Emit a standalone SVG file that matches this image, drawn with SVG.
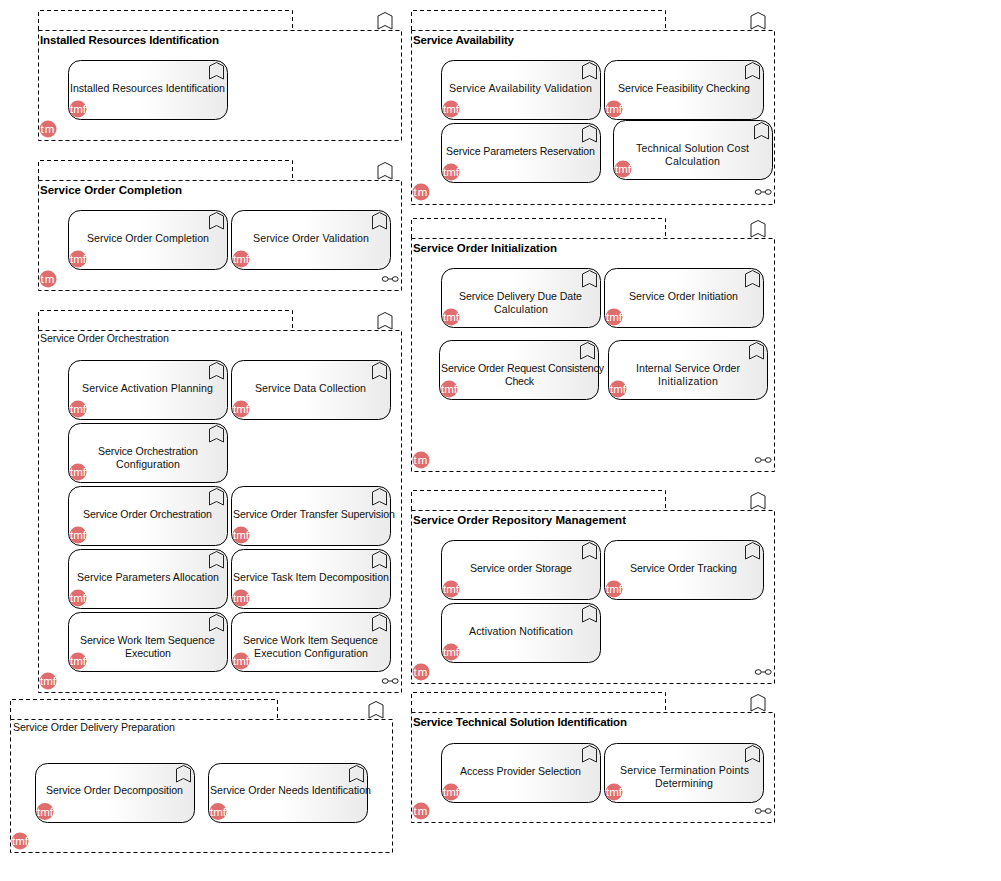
<svg xmlns="http://www.w3.org/2000/svg" width="1001" height="881" viewBox="0 0 1001 881">
<style>
text{font-family:"Liberation Sans",Arial,sans-serif;font-size:10.600px;fill:#111}
.frame{fill:#fff;stroke:#000;stroke-width:1;stroke-dasharray:4 3}
.title{font-size:11.500px;font-weight:700;fill:#000}
.box{fill:url(#g);stroke:#000;stroke-width:1}
.lab{text-anchor:middle}
.bm{fill:none;stroke:#222;stroke-width:1}
.badge{fill:#e06d6d}
.bt{fill:#fff;font-size:11.500px;text-anchor:middle}
.bf{fill:#fff;font-size:11.500px;letter-spacing:1px;text-anchor:middle}
.ln{fill:none;stroke:#222;stroke-width:1}
</style>
<defs>
<linearGradient id="g" x1="0" y1="0" x2="1" y2="0"><stop offset="0.45" stop-color="#fff"/><stop offset="1" stop-color="#eaeaea"/></linearGradient>
<path id="bm" class="bm" d="M0 3.500L7 0 14 3.500V16.500L7 13 0 16.500Z"/>
<g id="lk"><ellipse class="ln" cx="3.200" cy="0" rx="3" ry="2.300"/><ellipse class="ln" cx="13.200" cy="0" rx="3" ry="2.300"/><path class="ln" d="M6.200 0H10.200"/></g>
</defs>
<g id="connectors"/>
<g id="f1"><path class="frame" d="M38.500 30V10.500H292.500V30"/><rect class="frame" x="38.500" y="30.500" width="363" height="110"/><use href="#bm" x="378" y="12.500"/><text class="title" x="40" y="44" textLength="179">Installed Resources Identification</text><circle class="badge" cx="48" cy="129" r="8.500"/><text class="bf" x="48" y="133">tm</text></g>
<g id="f2"><path class="frame" d="M38.500 180V160.500H292.500V180"/><rect class="frame" x="38.500" y="180.500" width="363" height="110"/><use href="#bm" x="378" y="162.500"/><text class="title" x="40" y="194" textLength="142">Service Order Completion</text><circle class="badge" cx="48" cy="279" r="8.500"/><text class="bf" x="48" y="283">tm</text><use href="#lk" x="382" y="279"/></g>
<g id="f3"><path class="frame" d="M38.500 330V310.500H292.500V330"/><rect class="frame" x="38.500" y="330.500" width="363" height="362"/><use href="#bm" x="378" y="312.500"/><text x="40" y="342" textLength="129">Service Order Orchestration</text><circle class="badge" cx="48" cy="681" r="8.500"/><text class="bt" x="48" y="685">tmf</text><use href="#lk" x="382" y="681"/></g>
<g id="f4"><path class="frame" d="M10.500 719V699.500H277.500V719"/><rect class="frame" x="10.500" y="719.500" width="382" height="133"/><use href="#bm" x="369" y="701.500"/><text x="13" y="731" textLength="162">Service Order Delivery Preparation</text><circle class="badge" cx="20" cy="841" r="8.500"/><text class="bt" x="20" y="845">tmf</text></g>
<g id="f5"><path class="frame" d="M411.500 30V10.500H665.500V30"/><rect class="frame" x="411.500" y="30.500" width="363" height="174"/><use href="#bm" x="751" y="12.500"/><text class="title" x="413" y="44" textLength="101">Service Availability</text><circle class="badge" cx="421" cy="192" r="8.500"/><text class="bf" x="421" y="196">tm</text><use href="#lk" x="755" y="192"/></g>
<g id="f6"><path class="frame" d="M411.500 238V218.500H665.500V238"/><rect class="frame" x="411.500" y="238.500" width="363" height="233"/><use href="#bm" x="751" y="220.500"/><text class="title" x="413" y="252" textLength="144">Service Order Initialization</text><circle class="badge" cx="421" cy="460" r="8.500"/><text class="bf" x="421" y="464">tm</text><use href="#lk" x="755" y="460"/></g>
<g id="f7"><path class="frame" d="M411.500 510V490.500H665.500V510"/><rect class="frame" x="411.500" y="510.500" width="363" height="173"/><use href="#bm" x="751" y="492.500"/><text class="title" x="413" y="524" textLength="213">Service Order Repository Management</text><circle class="badge" cx="421" cy="672" r="8.500"/><text class="bf" x="421" y="676">tm</text><use href="#lk" x="755" y="672"/></g>
<g id="f8"><path class="frame" d="M411.500 712V692.500H665.500V712"/><rect class="frame" x="411.500" y="712.500" width="363" height="110"/><use href="#bm" x="751" y="694.500"/><text class="title" x="413" y="726" textLength="214">Service Technical Solution Identification</text><circle class="badge" cx="421" cy="811" r="8.500"/><text class="bf" x="421" y="815">tm</text><use href="#lk" x="755" y="811"/></g>

<g id="n1"><rect class="box" x="68.500" y="60.500" width="159" height="59" rx="12"/><use href="#bm" x="209.500" y="62.500"/><text class="lab" x="147.500" y="92" textLength="155">Installed Resources Identification</text><circle class="badge" cx="78" cy="109" r="8.500"/><text class="bt" x="78" y="113">tmf</text></g>
<g id="n2"><rect class="box" x="68.500" y="210.500" width="159" height="59" rx="12"/><use href="#bm" x="209.500" y="212.500"/><text class="lab" x="148" y="242" textLength="122">Service Order Completion</text><circle class="badge" cx="78" cy="259" r="8.500"/><text class="bt" x="78" y="263">tmf</text></g>
<g id="n3"><rect class="box" x="231.500" y="210.500" width="159" height="59" rx="12"/><use href="#bm" x="372.500" y="212.500"/><text class="lab" x="311" y="242" textLength="116">Service Order Validation</text><circle class="badge" cx="241" cy="259" r="8.500"/><text class="bt" x="241" y="263">tmf</text></g>
<g id="n4"><rect class="box" x="68.500" y="360.500" width="159" height="59" rx="12"/><use href="#bm" x="209.500" y="362.500"/><text class="lab" x="147.500" y="392" textLength="131">Service Activation Planning</text><circle class="badge" cx="78" cy="409" r="8.500"/><text class="bt" x="78" y="413">tmf</text></g>
<g id="n5"><rect class="box" x="231.500" y="360.500" width="159" height="59" rx="12"/><use href="#bm" x="372.500" y="362.500"/><text class="lab" x="310.500" y="392" textLength="111">Service Data Collection</text><circle class="badge" cx="241" cy="409" r="8.500"/><text class="bt" x="241" y="413">tmf</text></g>
<g id="n6"><rect class="box" x="68.500" y="423.500" width="159" height="59" rx="12"/><use href="#bm" x="209.500" y="425.500"/><text class="lab" x="148" y="455" textLength="100">Service Orchestration</text><text class="lab" x="148" y="468" textLength="64">Configuration</text><circle class="badge" cx="78" cy="472" r="8.500"/><text class="bt" x="78" y="476">tmf</text></g>
<g id="n7"><rect class="box" x="68.500" y="486.500" width="159" height="59" rx="12"/><use href="#bm" x="209.500" y="488.500"/><text class="lab" x="147.500" y="518" textLength="129">Service Order Orchestration</text><circle class="badge" cx="78" cy="535" r="8.500"/><text class="bt" x="78" y="539">tmf</text></g>
<g id="n8"><rect class="box" x="231.500" y="486.500" width="159" height="59" rx="12"/><use href="#bm" x="372.500" y="488.500"/><text class="lab" x="314" y="518" textLength="162">Service Order Transfer Supervision</text><circle class="badge" cx="241" cy="535" r="8.500"/><text class="bt" x="241" y="539">tmf</text></g>
<g id="n9"><rect class="box" x="68.500" y="549.500" width="159" height="59" rx="12"/><use href="#bm" x="209.500" y="551.500"/><text class="lab" x="148" y="581" textLength="142">Service Parameters Allocation</text><circle class="badge" cx="78" cy="598" r="8.500"/><text class="bt" x="78" y="602">tmf</text></g>
<g id="n10"><rect class="box" x="231.500" y="549.500" width="159" height="59" rx="12"/><use href="#bm" x="372.500" y="551.500"/><text class="lab" x="311" y="581" textLength="156">Service Task Item Decomposition</text><circle class="badge" cx="241" cy="598" r="8.500"/><text class="bt" x="241" y="602">tmf</text></g>
<g id="n11"><rect class="box" x="68.500" y="612.500" width="159" height="59" rx="12"/><use href="#bm" x="209.500" y="614.500"/><text class="lab" x="147.500" y="644" textLength="135">Service Work Item Sequence</text><text class="lab" x="148" y="657" textLength="46">Execution</text><circle class="badge" cx="78" cy="661" r="8.500"/><text class="bt" x="78" y="665">tmf</text></g>
<g id="n12"><rect class="box" x="231.500" y="612.500" width="159" height="59" rx="12"/><use href="#bm" x="372.500" y="614.500"/><text class="lab" x="310.500" y="644" textLength="135">Service Work Item Sequence</text><text class="lab" x="311" y="657" textLength="114">Execution Configuration</text><circle class="badge" cx="241" cy="661" r="8.500"/><text class="bt" x="241" y="665">tmf</text></g>
<g id="n13"><rect class="box" x="35.500" y="763.500" width="159" height="59" rx="12"/><use href="#bm" x="176.500" y="765.500"/><text class="lab" x="114.500" y="794" textLength="137">Service Order Decomposition</text><circle class="badge" cx="45" cy="811.500" r="8.500"/><text class="bt" x="45" y="815.500">tmf</text></g>
<g id="n14"><rect class="box" x="208.500" y="763.500" width="159" height="59" rx="12"/><use href="#bm" x="349.500" y="765.500"/><text class="lab" x="290.500" y="794" textLength="161">Service Order Needs Identification</text><circle class="badge" cx="218" cy="811.500" r="8.500"/><text class="bt" x="218" y="815.500">tmf</text></g>
<g id="n15"><rect class="box" x="441.500" y="60.500" width="159" height="59" rx="12"/><use href="#bm" x="582.500" y="62.500"/><text class="lab" x="520.500" y="92" textLength="143">Service Availability Validation</text><circle class="badge" cx="451" cy="109" r="8.500"/><text class="bt" x="451" y="113">tmf</text></g>
<g id="n16"><rect class="box" x="604.500" y="60.500" width="159" height="59" rx="12"/><use href="#bm" x="745.500" y="62.500"/><text class="lab" x="684" y="92" textLength="132">Service Feasibility Checking</text><circle class="badge" cx="614" cy="109" r="8.500"/><text class="bt" x="614" y="113">tmf</text></g>
<g id="n17"><rect class="box" x="441.500" y="123.500" width="159" height="59" rx="12"/><use href="#bm" x="582.500" y="125.500"/><text class="lab" x="520.500" y="155" textLength="149">Service Parameters Reservation</text><circle class="badge" cx="451" cy="172" r="8.500"/><text class="bt" x="451" y="176">tmf</text></g>
<g id="n18"><rect class="box" x="613.500" y="120.500" width="159" height="59" rx="12"/><use href="#bm" x="754.500" y="122.500"/><text class="lab" x="692.500" y="152" textLength="113">Technical Solution Cost</text><text class="lab" x="692.500" y="165" textLength="55">Calculation</text><circle class="badge" cx="623" cy="169" r="8.500"/><text class="bt" x="623" y="173">tmf</text></g>
<g id="n19"><rect class="box" x="441.500" y="268.500" width="159" height="59" rx="12"/><use href="#bm" x="582.500" y="270.500"/><text class="lab" x="520.500" y="300" textLength="123">Service Delivery Due Date</text><text class="lab" x="521" y="313" textLength="54">Calculation</text><circle class="badge" cx="451" cy="317" r="8.500"/><text class="bt" x="451" y="321">tmf</text></g>
<g id="n20"><rect class="box" x="604.500" y="268.500" width="159" height="59" rx="12"/><use href="#bm" x="745.500" y="270.500"/><text class="lab" x="683.500" y="300" textLength="109">Service Order Initiation</text><circle class="badge" cx="614" cy="317" r="8.500"/><text class="bt" x="614" y="321">tmf</text></g>
<g id="n21"><rect class="box" x="439.500" y="340.500" width="159" height="59" rx="12"/><use href="#bm" x="580.500" y="342.500"/><text class="lab" x="522.500" y="372" textLength="163">Service Order Request Consistency</text><text class="lab" x="519.500" y="385" textLength="29">Check</text><circle class="badge" cx="449" cy="389" r="8.500"/><text class="bt" x="449" y="393">tmf</text></g>
<g id="n22"><rect class="box" x="608.500" y="340.500" width="159" height="59" rx="12"/><use href="#bm" x="749.500" y="342.500"/><text class="lab" x="688" y="372" textLength="104">Internal Service Order</text><text class="lab" x="688" y="385" textLength="60">Initialization</text><circle class="badge" cx="618" cy="389" r="8.500"/><text class="bt" x="618" y="393">tmf</text></g>
<g id="n23"><rect class="box" x="441.500" y="540.500" width="159" height="59" rx="12"/><use href="#bm" x="582.500" y="542.500"/><text class="lab" x="521" y="572" textLength="102">Service order Storage</text><circle class="badge" cx="451" cy="589" r="8.500"/><text class="bt" x="451" y="593">tmf</text></g>
<g id="n24"><rect class="box" x="604.500" y="540.500" width="159" height="59" rx="12"/><use href="#bm" x="745.500" y="542.500"/><text class="lab" x="683.500" y="572" textLength="107">Service Order Tracking</text><circle class="badge" cx="614" cy="589" r="8.500"/><text class="bt" x="614" y="593">tmf</text></g>
<g id="n25"><rect class="box" x="441.500" y="603.500" width="159" height="59" rx="12"/><use href="#bm" x="582.500" y="605.500"/><text class="lab" x="521" y="635" textLength="104">Activation Notification</text><circle class="badge" cx="451" cy="652" r="8.500"/><text class="bt" x="451" y="656">tmf</text></g>
<g id="n26"><rect class="box" x="441.500" y="743.500" width="159" height="59" rx="12"/><use href="#bm" x="582.500" y="745.500"/><text class="lab" x="520.500" y="775" textLength="121">Access Provider Selection</text><circle class="badge" cx="451" cy="792" r="8.500"/><text class="bt" x="451" y="796">tmf</text></g>
<g id="n27"><rect class="box" x="604.500" y="743.500" width="159" height="59" rx="12"/><use href="#bm" x="745.500" y="745.500"/><text class="lab" x="684.500" y="774" textLength="129">Service Termination Points</text><text class="lab" x="684" y="787" textLength="58">Determining</text><circle class="badge" cx="614" cy="792" r="8.500"/><text class="bt" x="614" y="796">tmf</text></g>
</svg>
